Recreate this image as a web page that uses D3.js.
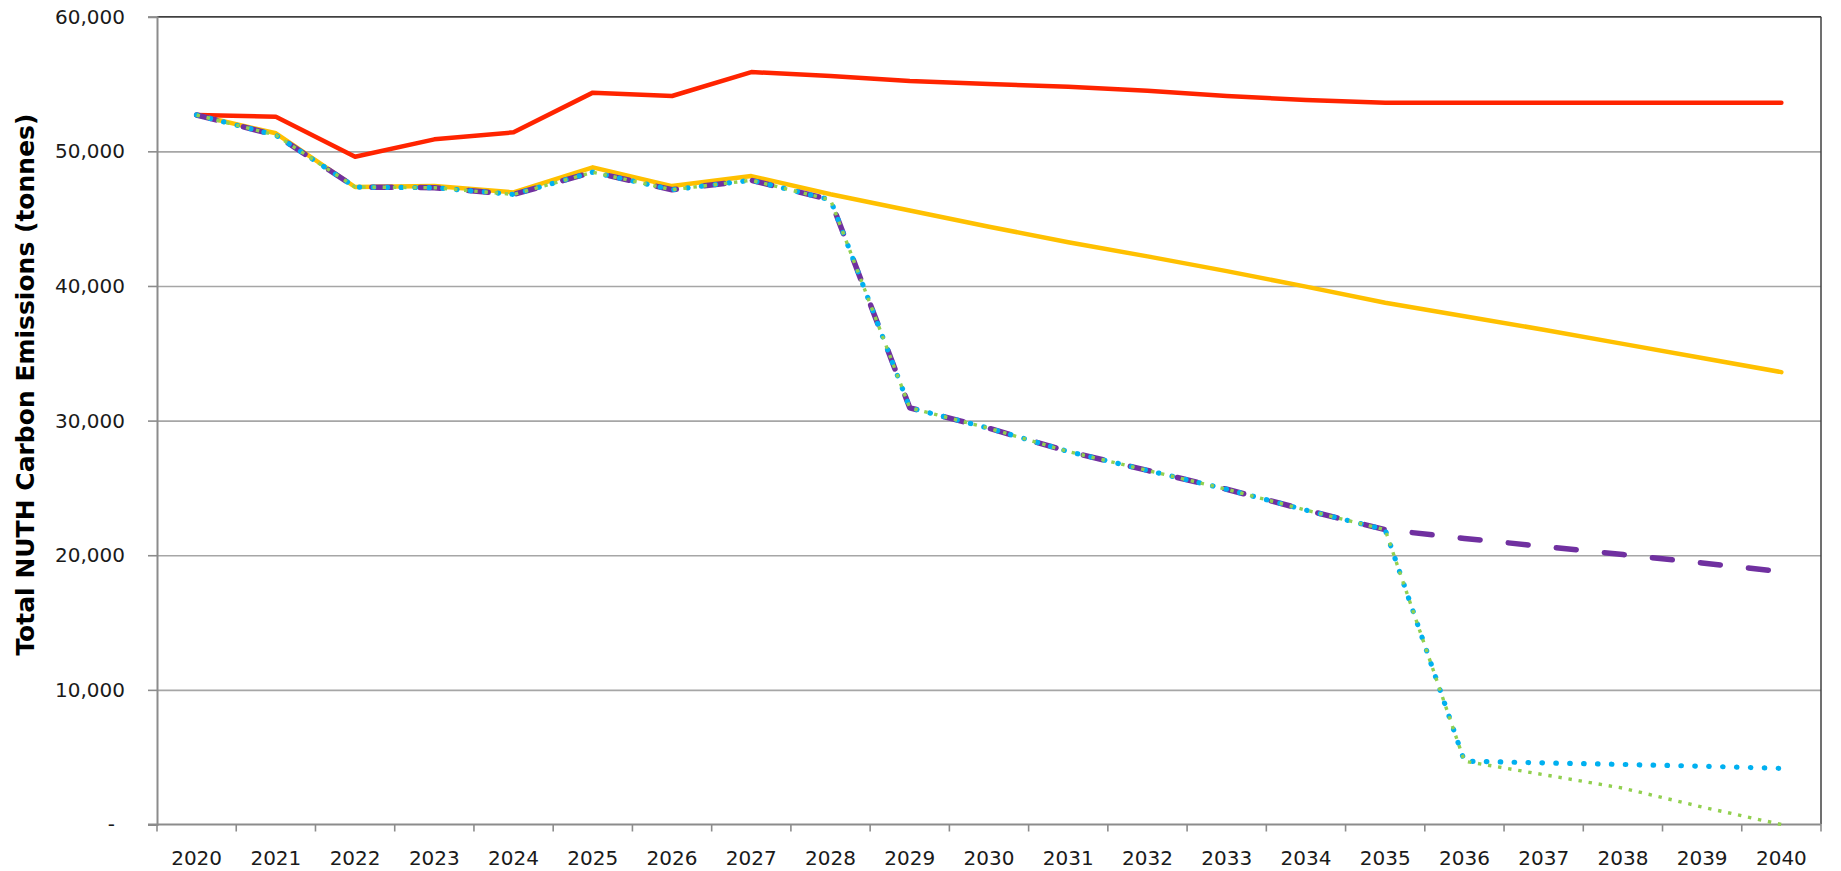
<!DOCTYPE html>
<html>
<head>
<meta charset="utf-8">
<script src="https://cdnjs.cloudflare.com/ajax/libs/d3/7.8.5/d3.min.js"></script>
<style>
  html, body { margin: 0; padding: 0; background: #ffffff; }
  svg { display: block; }
  text { font-family: "DejaVu Sans", Verdana, sans-serif; }
</style>
</head>
<body>
<svg id="chart" width="1841" height="871"></svg>
<script>
// ---- data ----
const years = ["2020","2021","2022","2023","2024","2025","2026","2027","2028","2029","2030",
               "2031","2032","2033","2034","2035","2036","2037","2038","2039","2040"];

const seriesRed    = [52700, 52570, 49600, 50890, 51410, 54360, 54110, 55890, 55600, 55220, 55000,
                      54800, 54500, 54110, 53810, 53600, 53600, 53600, 53600, 53600, 53600];
const seriesYellow = [52700, 51340, 47350, 47420, 46950, 48810, 47420, 48160, 46810, 45600, 44400,
                      43250, 42200, 41100, 39950, 38750, 37750, 36750, 35700, 34650, 33600];
const seriesPurple = [52700, 51200, 47350, 47300, 46800, 48450, 47150, 47850, 46400, 30950, 29430,
                      27700, 26300, 24900, 23350, 21900, 21250, 20650, 20050, 19420, 18780];
const seriesBlue   = [52700, 51200, 47350, 47300, 46800, 48450, 47150, 47850, 46400, 30950, 29430,
                      27700, 26300, 24900, 23350, 21900, 4700, 4580, 4460, 4330, 4170];
const seriesGreen  = [52700, 51200, 47350, 47300, 46800, 48450, 47150, 47850, 46400, 30950, 29430,
                      27700, 26300, 24900, 23350, 21900, 4700, 3700, 2700, 1300, 0];

const yTicks = [0, 10000, 20000, 30000, 40000, 50000, 60000];
const yTitle = "Total NUTH Carbon Emissions (tonnes)";

// ---- layout ----
const pL = 157, pR = 1821, pT = 16.7, pB = 824.5;
const svg = d3.select("#chart");
svg.append("rect").attr("width", 1841).attr("height", 871).attr("fill", "#fff");

const x = d3.scaleBand().domain(years).range([pL, pR]).padding(0);
const y = d3.scaleLinear().domain([0, 60000]).range([pB, pT]);
const cx = d => x(d) + x.bandwidth() / 2;

// gridlines
const grid = svg.append("g").attr("transform", `translate(${pL},0)`)
  .call(d3.axisLeft(y).tickValues(yTicks.filter(v => v > 0)).tickSize(-(pR - pL)).tickFormat(""));
grid.select(".domain").remove();
grid.selectAll("line").attr("stroke", "#a6a6a6").attr("stroke-width", 1.6);

// plot border (top/right dark)
svg.append("line").attr("x1", pL).attr("x2", pR).attr("y1", pT).attr("y2", pT)
  .attr("stroke", "#404040").attr("stroke-width", 1.5);
svg.append("line").attr("x1", pR).attr("x2", pR).attr("y1", pT).attr("y2", pB)
  .attr("stroke", "#404040").attr("stroke-width", 1.5);

// y axis
const yAxis = svg.append("g").attr("transform", `translate(${pL},0)`)
  .call(d3.axisLeft(y).tickValues(yTicks).tickSize(9).tickPadding(23)
        .tickFormat(d => d === 0 ? "-" : d3.format(",")(d)));
yAxis.select(".domain").attr("stroke", "#8c8c8c").attr("stroke-width", 2);
yAxis.selectAll(".tick line").attr("stroke", "#8c8c8c").attr("stroke-width", 1.6);
yAxis.selectAll(".tick text").attr("font-size", 20).attr("fill", "#1a1a1a")
  .attr("font-family", "DejaVu Sans, Verdana, sans-serif")
  .attr("dx", d => d === 0 ? -10 : 0);

// x axis (labels)
const xAxis = svg.append("g").attr("transform", `translate(0,${pB})`)
  .call(d3.axisBottom(x).tickSize(0).tickPadding(26));
xAxis.select(".domain").remove();
xAxis.selectAll(".tick text").attr("font-size", 20).attr("fill", "#1a1a1a")
  .attr("font-family", "DejaVu Sans, Verdana, sans-serif");
// x tick marks at category boundaries
const bounds = years.map(d => x(d)).concat([x.range()[1]]);
svg.append("g").selectAll("line").data(bounds).join("line")
  .attr("x1", d => d).attr("x2", d => d).attr("y1", pB).attr("y2", pB + 7)
  .attr("stroke", "#8c8c8c").attr("stroke-width", 1.6);
svg.append("line").attr("x1", pL - 9).attr("x2", pR).attr("y1", pB).attr("y2", pB)
  .attr("stroke", "#8c8c8c").attr("stroke-width", 2);

// y title
svg.append("text")
  .attr("transform", `translate(34,${(pT + pB) / 2 - 36}) rotate(-90)`)
  .attr("text-anchor", "middle")
  .attr("font-size", 25).attr("font-weight", "bold").attr("fill", "#000")
  .text(yTitle);

// ---- series ----
const line = d3.line().x((d, i) => cx(years[i])).y(d => y(d));
const series = [
  { data: seriesRed,    color: "#FF2400", width: 4.5, dash: null, cap: "round" },
  { data: seriesYellow, color: "#FFC000", width: 4.5, dash: null, cap: "round" },
  { data: seriesPurple, color: "#7030A0", width: 5.5, dash: "20 28.3", cap: "round" },
  { data: seriesBlue,   color: "#00B0F0", width: 5.2, dash: "0.5 13.4", cap: "round" },
  { data: seriesGreen,  color: "#92D050", width: 3.4, dash: "3.4 6.8", cap: "butt" }
];
svg.append("g").selectAll("path").data(series).join("path")
  .attr("d", s => line(s.data))
  .attr("fill", "none")
  .attr("stroke", s => s.color)
  .attr("stroke-width", s => s.width)
  .attr("stroke-linejoin", "round")
  .attr("stroke-linecap", s => s.cap)
  .attr("stroke-dasharray", s => s.dash);
</script>
</body>
</html>
